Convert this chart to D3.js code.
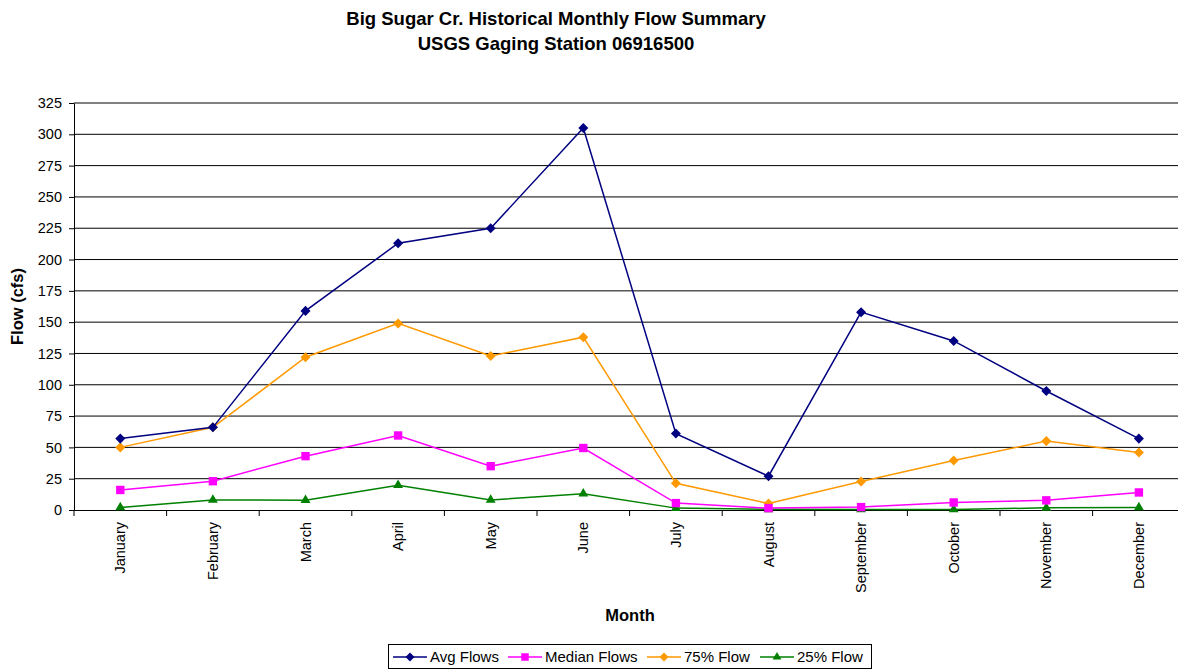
<!DOCTYPE html>
<html>
<head>
<meta charset="utf-8">
<script src="https://cdn.jsdelivr.net/npm/d3@7"></script>
<style>
  body { margin: 0; background: #fff; }
  text { font-family: "Liberation Sans", Arial, sans-serif; fill: #000; }
</style>
</head>
<body>
<svg id="chart" width="1178" height="671"></svg>
<script>
const months = ['January', 'February', 'March', 'April', 'May', 'June', 'July',
  'August', 'September', 'October', 'November', 'December'];
const avgFlows = [57, 66, 159, 213, 225, 305, 61, 27, 158, 135, 95, 57];
const medianFlows = [16, 23, 43, 59.5, 35, 49.5, 5.5, 1.5, 2.3, 6, 7.7, 14];
const flow75 = [50, 66, 122, 149, 123, 138, 21.3, 5.2, 22.7, 39.5, 55, 46];
const flow25 = [2, 8, 7.8, 19.8, 8, 13, 1.5, 0.5, 0.4, 0.4, 1.7, 2];
const yTicks = d3.range(0, 326, 25);

const series = [
  { name: 'Avg Flows', values: avgFlows, color: '#000080', symbol: d3.symbolDiamond2, size: 64 },
  { name: 'Median Flows', values: medianFlows, color: '#ff00ff', symbol: d3.symbolSquare2, size: 90 },
  { name: '75% Flow', values: flow75, color: '#ff9900', symbol: d3.symbolDiamond2, size: 64 },
  { name: '25% Flow', values: flow25, color: '#008000', symbol: d3.symbolTriangle2, size: 70 }
];

const margin = { left: 74, top: 103, bottom: 161 };
const svg = d3.select('#chart');
const W = 1178, H = 671;
const plotRight = margin.left + 12 * 92.6;
const font = '"Liberation Sans", Arial, sans-serif';

const x = d3.scaleBand().domain(months).range([margin.left, plotRight]);
const y = d3.scaleLinear().domain([0, 325]).range([H - margin.bottom, margin.top]);

// title
svg.append('text').attr('x', 556).attr('y', 25)
  .attr('text-anchor', 'middle').style('font-size', '18.5px').style('font-weight', 'bold')
  .text('Big Sugar Cr. Historical Monthly Flow Summary');
svg.append('text').attr('x', 556).attr('y', 50)
  .attr('text-anchor', 'middle').style('font-size', '18.5px').style('font-weight', 'bold')
  .text('USGS Gaging Station 06916500');

// gridlines
svg.append('g').selectAll('line').data(yTicks.filter(d => d > 0)).enter().append('line')
  .attr('x1', margin.left).attr('x2', W)
  .attr('y1', d => y(d)).attr('y2', d => y(d))
  .attr('stroke', '#000').attr('stroke-width', 1);

// y axis
const yAxisG = svg.append('g').attr('transform', `translate(${margin.left},0)`)
  .call(d3.axisLeft(y).tickValues(yTicks).tickSize(5).tickPadding(7).tickSizeOuter(0));
yAxisG.select('.domain').attr('stroke', '#000');
yAxisG.selectAll('text').style('font-size', '14.5px').style('font-family', font);

// x axis
const xAxisG = svg.append('g').attr('transform', `translate(0,${y(0)})`)
  .call(d3.axisBottom(x).tickSize(0).tickPadding(0));
xAxisG.select('.domain').attr('d', `M${margin.left},0.5H${plotRight}`).attr('stroke', '#000');
xAxisG.selectAll('.tick text')
  .attr('transform', 'rotate(-90)')
  .attr('text-anchor', 'end')
  .attr('x', -12).attr('y', 0).attr('dy', '0.35em')
  .style('font-size', '14.5px').style('font-family', font);
// tick marks at band boundaries
svg.append('g').selectAll('line').data(months).enter().append('line')
  .attr('x1', d => x(d)).attr('x2', d => x(d))
  .attr('y1', y(0)).attr('y2', y(0) + 6)
  .attr('stroke', '#000');

// axis labels
svg.append('text').attr('transform', `translate(23,${(y(0) + y(325)) / 2}) rotate(-90)`)
  .attr('text-anchor', 'middle').style('font-size', '16.5px').style('font-weight', 'bold')
  .text('Flow (cfs)');
svg.append('text').attr('x', 630).attr('y', 621)
  .attr('text-anchor', 'middle').style('font-size', '16.5px').style('font-weight', 'bold')
  .text('Month');

// lines + markers
const line = d3.line().x((d, i) => x(months[i]) + x.bandwidth() / 2).y(d => y(d));
series.slice().reverse().forEach(s => {
  const g = svg.append('g');
  g.append('path').datum(s.values).attr('d', line)
    .attr('fill', 'none').attr('stroke', s.color).attr('stroke-width', 1.5);
  g.selectAll('path.pt').data(s.values).enter().append('path')
    .attr('class', 'pt')
    .attr('d', d3.symbol().type(s.symbol).size(s.size))
    .attr('transform', (d, i) => `translate(${x(months[i]) + x.bandwidth() / 2},${y(d)})`)
    .attr('fill', s.color);
});

// legend
const legend = svg.append('g').attr('transform', 'translate(388,644)');
legend.append('rect').attr('x', 0.5).attr('y', 0.5).attr('width', 483).attr('height', 24)
  .attr('fill', '#fff').attr('stroke', '#000');
const offsets = [5, 120, 259, 372];
series.forEach((s, i) => {
  const it = legend.append('g').attr('transform', `translate(${offsets[i]},13)`);
  it.append('line').attr('x1', 0).attr('x2', 34).attr('stroke', s.color).attr('stroke-width', 1.5);
  it.append('path').attr('d', d3.symbol().type(s.symbol).size(s.size * 0.8))
    .attr('transform', 'translate(17,0)').attr('fill', s.color);
  it.append('text').attr('x', 37).attr('dy', '0.35em').style('font-size', '15px').text(s.name);
});
</script>
</body>
</html>
